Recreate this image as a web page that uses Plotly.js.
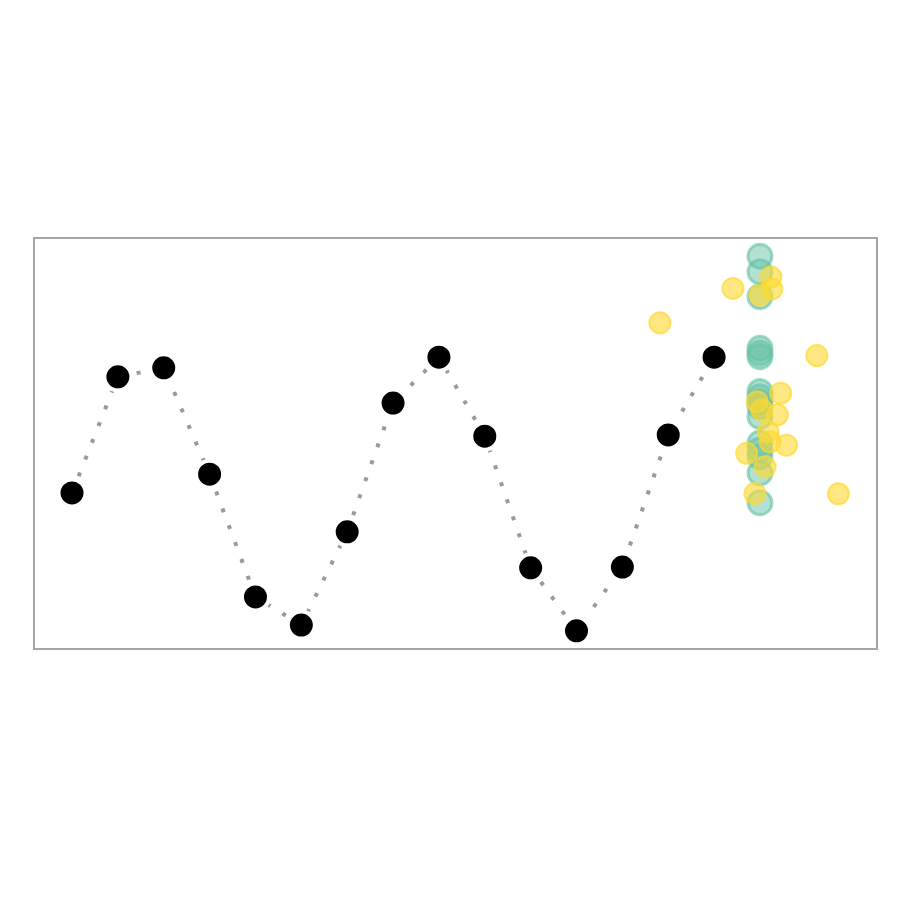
<!DOCTYPE html>
<html>
<head>
<meta charset="utf-8">
<script src="https://cdn.plot.ly/plotly-3.0.1.min.js"></script>
<style>html,body{margin:0;padding:0;background:#fff;}#chart{width:900px;height:900px;}</style>
</head>
<body>
<div id="chart"></div>
<script>
// observed series
const obsX = [0,1,2,3,4,5,6,7,8,9,10,11,12,13,14];
const obsY = [3.79,6.63,6.85,4.25,1.25,0.56,2.84,5.99,7.11,5.18,1.96,0.42,1.98,5.21,7.11];

// teal samples at next step
const tealX = [15,15,15,15,15,15,15,15,15,15,15,15,15,15,15,15];
const tealY = [9.58,9.20,8.59,7.33,7.21,7.12,6.27,6.14,6.02,5.90,5.66,5.01,4.84,4.68,4.28,3.55];

// yellow samples (jittered)
const yelX = [14.41,12.82,15.24,15.26,15.0,16.24,15.45,14.94,15.04,15.38,15.18,15.22,15.58,14.71,15.11,14.89,16.71];
const yelY = [8.79,7.95,9.07,8.78,8.63,7.15,6.23,6.02,5.82,5.70,5.29,5.04,4.96,4.76,4.43,3.78,3.77];

const traces = [
  {x: obsX, y: obsY, mode: 'lines', line: {color: '#999999', width: 4, dash: '4px,14px'}, hoverinfo: 'skip'},
  {x: obsX, y: obsY, mode: 'markers', marker: {color: '#000000', size: 27, line: {color: '#ffffff', width: 4}}},
  {x: tealX, y: tealY, mode: 'markers', marker: {color: 'rgba(102,194,165,0.5)', size: 24, line: {color: 'rgba(102,194,165,0.6)', width: 3}}},
  {x: yelX, y: yelY, mode: 'markers', marker: {color: 'rgba(255,217,47,0.6)', size: 21, line: {color: 'rgba(255,217,47,0.7)', width: 2}}}
];

const axisCommon = {showgrid: false, zeroline: false, showticklabels: false, ticks: '', showline: true, mirror: true, linecolor: '#a6a6a6', linewidth: 2};

const layout = {
  width: 900, height: 900,
  margin: {l: 35, r: 24, t: 239, b: 252},
  showlegend: false,
  paper_bgcolor: '#ffffff', plot_bgcolor: '#ffffff',
  xaxis: Object.assign({range: [-0.807, 17.53]}, axisCommon),
  yaxis: Object.assign({range: [0, 10]}, axisCommon)
};

Plotly.newPlot('chart', traces, layout, {displayModeBar: false, staticPlot: true});
</script>
</body>
</html>
